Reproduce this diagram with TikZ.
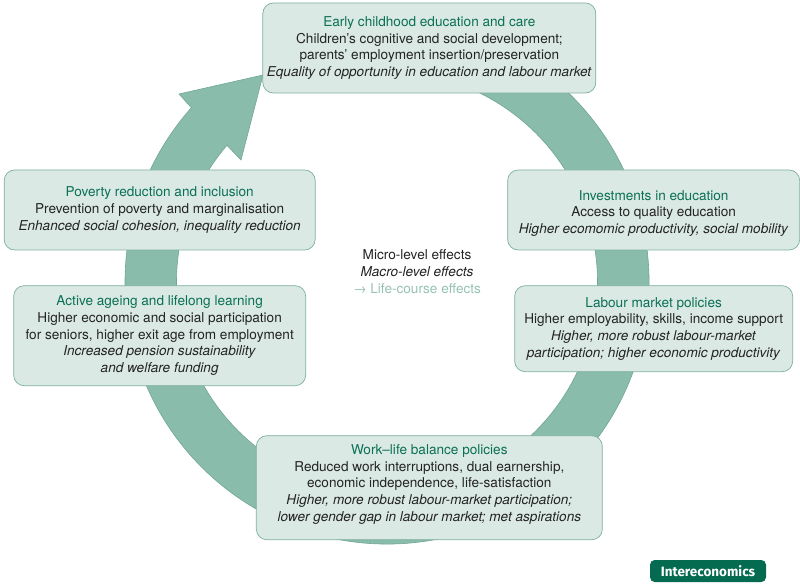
\documentclass[tikz,border=0pt]{standalone}
\usepackage{xcolor}
\usepackage{fontspec}
\setmainfont{TeX Gyre Heros}
\newfontfamily\logofont{Fira Sans}
\usetikzlibrary{positioning, calc}
\definecolor{ringgreen}{RGB}{138, 188, 172}
\definecolor{ringedge}{RGB}{112, 165, 147}
\definecolor{boxfill}{RGB}{218, 233, 228}
\definecolor{boxedge}{RGB}{125, 175, 158}
\definecolor{titlegreen}{RGB}{10, 112, 84}
\definecolor{logogreen}{RGB}{4, 106, 80}
\definecolor{legendgreen}{RGB}{150, 194, 180}
\definecolor{bodygray}{RGB}{35, 35, 35}
\newcommand{\boxtitle}[1]{\textcolor{titlegreen}{#1}}

\begin{document}
\begin{tikzpicture}[
    box/.style={draw=boxedge, fill=boxfill, line width=0.6pt, rounded corners=9pt, align=center, inner sep=0pt, text=bodygray, font=\fontsize{11.6}{14.2}\selectfont},
    ring/.style={draw=ringedge, fill=ringgreen, line width=0.5pt}
]
\useasboundingbox (0,0) rectangle (24,17.61);

\coordinate (hub) at (11.61,9.15);

\draw[ring] ($(hub)+(70:7.86)$) arc[start angle=70, end angle=-221.7, radius=7.86]
    -- (5.37,14.79) -- (7.89,15.36) -- (7.23,12.81) -- ($(hub)+(139.5:6.315)$)
    arc[start angle=-220.5, end angle=70, radius=6.315] -- cycle;

\node[box, minimum width=9.99cm, minimum height=2.7cm] (early) at (12.88,16.17) {\boxtitle{Early childhood education and care}\\
    Children’s cognitive and social development;\\
    parents’ employment insertion/preservation\\
    \textit{Equality of opportunity in education and labour market}};
\node[box, minimum width=8.76cm, minimum height=2.4cm] (invest) at (19.61,11.31) {\mbox{}\\[0pt]
    \boxtitle{Investments in education}\\
    Access to quality education\\
    \textit{Higher ecomomic productivity, social mobility}};
\node[box, minimum width=8.34cm, minimum height=2.58cm, below=1.05cm of invest] (labour) {\boxtitle{Labour market policies}\\
    Higher employability, skills, income support\\
    \textit{Higher, more robust labour-market}\\
    \textit{participation; higher economic productivity}};
\node[box, minimum width=10.38cm, minimum height=3.12cm, below=10.26cm of early] (work) {\boxtitle{Work–life balance policies}\\
    Reduced work interruptions, dual earnership,\\
    economic independence, life-satisfaction\\
    \textit{Higher, more robust labour-market participation;}\\
    \textit{lower gender gap in labour market; met aspirations}\\[-6pt]
    \mbox{}};
\node[box, minimum width=9.33cm, minimum height=2.4cm] (poverty) at (4.79,11.31) {\boxtitle{Poverty reduction and inclusion}\\
    Prevention of poverty and marginalisation\\
    \textit{Enhanced social cohesion, inequality reduction}};
\node[box, minimum width=8.76cm, minimum height=3cm, below=1.05cm of poverty] (ageing) {\boxtitle{Active ageing and lifelong learning}\\
    Higher economic and social participation\\
    for seniors, higher exit age from employment\\
    \textit{Increased pension sustainability}\\
    \textit{and welfare funding}};

\node[align=center, inner sep=0pt, text=bodygray, font=\fontsize{11.6}{14.2}\selectfont] (legend) at (12.51,9.46) {Micro-level effects\\
    \textit{Macro-level effects}\\
    \textcolor{legendgreen}{→ Life-course effects}};

\node[fill=logogreen, text=white, rounded corners=4pt, minimum width=3.48cm, minimum height=0.66cm, inner sep=0pt, font=\logofont\bfseries\fontsize{11.5}{12}\selectfont] (logo) at (21.24,0.48) {Intereconomics};

\end{tikzpicture}
\end{document}
